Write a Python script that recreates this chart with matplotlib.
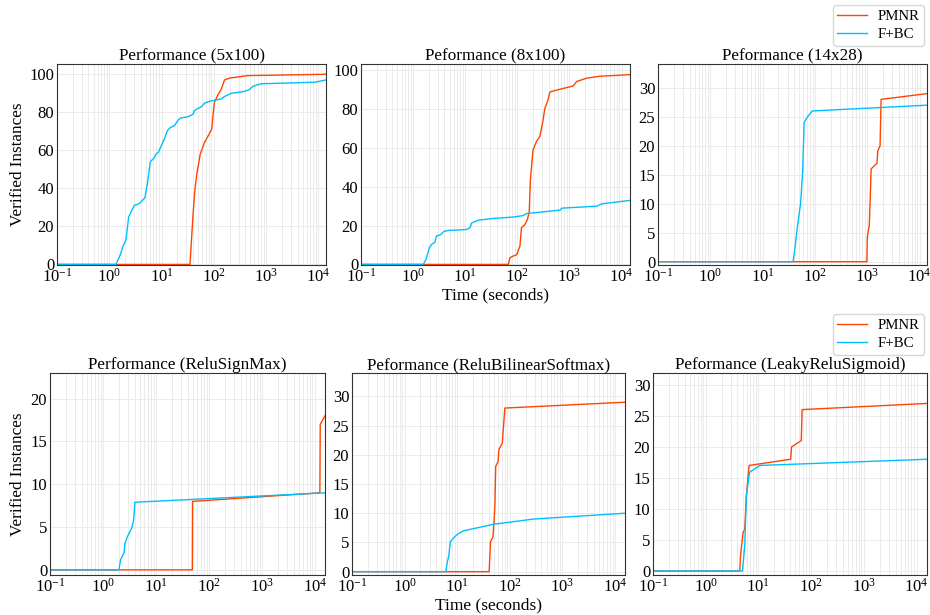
import matplotlib
matplotlib.use('Agg')
import matplotlib.pyplot as plt
from matplotlib.ticker import MultipleLocator

plt.rcParams['font.family'] = 'serif'
plt.rcParams['font.serif'] = ['Liberation Serif', 'DejaVu Serif']
plt.rcParams['mathtext.fontset'] = 'stix'

PMNR_COLOR = 'orangered'
FBC_COLOR = 'deepskyblue'

# ---- 5x100 ----
t_5x100_pmnr = [0.1, 35, 40, 43, 47, 55, 66, 83, 91, 102, 119, 138, 160, 200, 447, 14000]
v_5x100_pmnr = [0, 0, 26, 38, 47, 58, 64, 69, 71, 85, 89, 92, 97, 98, 99.3, 100]
t_5x100_fbc = [0.1, 1.34, 1.62, 1.8, 2.09, 2.35, 3.0, 3.76, 4.8, 5.4, 6.1, 7.2, 7.8, 8.7, 9.4,
               11.3, 13, 14.8, 17.6, 21, 23, 31.6, 40, 43, 58, 68, 89, 138, 165, 215, 390,
               480, 560, 800, 8500, 14000]
v_5x100_fbc = [0, 0, 5, 9, 13, 25, 31, 32, 35, 43, 54, 56, 58, 59, 61,
               66, 70.5, 72, 73, 76, 77, 77.6, 79, 81, 83, 85, 86, 87, 88.5, 90, 91,
               92, 93.7, 95, 95.8, 97]

# ---- 8x100 ----
t_8x100_pmnr = [0.1, 67, 72, 83, 97, 112, 120, 140, 155, 169, 178, 200, 234, 270, 305, 338,
                380, 420, 455, 1180, 1380, 2140, 3800, 14400]
v_8x100_pmnr = [0, 0, 3.4, 4.3, 5, 9.4, 19, 20.6, 23, 27, 43.7, 59, 63.5, 66, 73, 80.6,
                84, 88.7, 89.2, 92, 94.3, 96, 97, 97.8]
t_8x100_fbc = [0.1, 1.57, 1.77, 2.05, 2.26, 2.63, 2.8, 3.4, 3.9, 4.7, 10.6, 12.4, 13.3, 17.8,
               34.7, 83, 130, 150, 660, 710, 3300, 4150, 14400]
v_8x100_fbc = [0, 0, 2.6, 8.6, 10.3, 11.5, 14.6, 15.4, 17, 17.5, 18, 19, 21.4, 22.8,
               23.7, 24.4, 25.2, 26.2, 28, 29, 30, 31.2, 33]

# ---- 14x28 ----
t_14x28_pmnr = [0.1, 980, 1000, 1090, 1140, 1180, 1530, 1580, 1750, 1830, 14000]
v_14x28_pmnr = [0, 0, 4.3, 6.3, 11.4, 16, 17, 19.1, 20, 28, 29]
t_14x28_fbc = [0.1, 38, 41, 46, 53, 58, 62, 72, 89, 14000]
v_14x28_fbc = [0, 0, 2, 6, 10, 15.4, 24, 25, 26, 27]

# ---- ReluSignMax ----
t_rsm_pmnr = [0.1, 48.5, 49, 12400, 12600, 15500]
v_rsm_pmnr = [0, 0, 8, 9, 17, 18]
t_rsm_fbc = [0.1, 2.0, 2.15, 2.5, 2.6, 2.9, 3.5, 3.8, 4.0, 15500]
v_rsm_fbc = [0, 0, 1.2, 2, 3.1, 3.9, 4.9, 5.9, 7.9, 9]

# ---- ReluBilinearSoftmax ----
t_rbs_pmnr = [0.1, 40.5, 43, 48, 52, 54, 60, 62, 72, 80.5, 15500]
v_rbs_pmnr = [0, 0, 5.1, 6, 11, 18, 18.9, 20.9, 22, 28, 29]
t_rbs_fbc = [0.1, 6.07, 6.5, 6.9, 7.4, 9, 10.5, 13.3, 48, 280, 15500]
v_rbs_fbc = [0, 0, 1.7, 2.6, 5.1, 6, 6.5, 7, 8.1, 9, 10]

# ---- LeakyReluSigmoid ----
t_lrs_pmnr = [0.1, 4.43, 4.55, 5.1, 5.5, 5.9, 6.65, 41, 42.6, 65, 67.5, 15800]
v_lrs_pmnr = [0, 0, 2.2, 6.2, 6.7, 12.1, 17, 18, 20, 21, 26, 27]
t_lrs_fbc = [0.1, 4.97, 5.5, 5.9, 6.8, 10.6, 15800]
v_lrs_fbc = [0, 0, 4, 12.1, 15.9, 17, 18]

titles = ['Performance (5x100)', 'Peformance (8x100)', 'Peformance (14x28)',
          'Performance (ReluSignMax)', 'Peformance (ReluBilinearSoftmax)',
          'Peformance (LeakyReluSigmoid)']
pmnr_series = [(t_5x100_pmnr, v_5x100_pmnr), (t_8x100_pmnr, v_8x100_pmnr),
               (t_14x28_pmnr, v_14x28_pmnr), (t_rsm_pmnr, v_rsm_pmnr),
               (t_rbs_pmnr, v_rbs_pmnr), (t_lrs_pmnr, v_lrs_pmnr)]
fbc_series = [(t_5x100_fbc, v_5x100_fbc), (t_8x100_fbc, v_8x100_fbc),
              (t_14x28_fbc, v_14x28_fbc), (t_rsm_fbc, v_rsm_fbc),
              (t_rbs_fbc, v_rbs_fbc), (t_lrs_fbc, v_lrs_fbc)]
ylims = [(-0.3, 105.4), (-0.3, 103.3), (-0.57, 34.1),
         (-0.6, 23.0), (-0.57, 34.0), (-0.65, 31.9)]
ysteps = [20, 20, 5, 5, 5, 5]
xmax = [1.4e4, 1.45e4, 1.38e4, 1.55e4, 1.55e4, 1.58e4]

W, H = 930.0, 615.0
# left, top, width, height in pixels
boxes = [(57, 64, 269, 201), (361, 64, 269, 201), (658, 64, 269, 201),
         (50, 373, 275, 202), (352, 373, 273, 202), (653, 373, 274, 202)]

fig = plt.figure(figsize=(9.3, 6.15), dpi=100)
axes = []
for i in range(6):
    l, t, w, h = boxes[i]
    ax = fig.add_axes([l / W, 1 - (t + h) / H, w / W, h / H])
    axes.append(ax)
    ax.plot(pmnr_series[i][0], pmnr_series[i][1], color=PMNR_COLOR, lw=1.0, label='PMNR')
    ax.plot(fbc_series[i][0], fbc_series[i][1], color=FBC_COLOR, lw=1.0, label='F+BC')
    ax.set_xscale('log')
    ax.set_xlim(0.1, xmax[i])
    ax.set_ylim(*ylims[i])
    ax.yaxis.set_major_locator(MultipleLocator(ysteps[i]))
    ax.set_title(titles[i], fontsize=12.3, pad=2)
    ax.grid(which='both', color='#ebebeb', lw=0.7)
    ax.set_axisbelow(True)
    ax.tick_params(which='both', length=0, labelsize=12, pad=2)
    for s in ax.spines.values():
        s.set_color('#333333')

axes[0].set_ylabel('Verified Instances', fontsize=12.3)
axes[0].yaxis.set_label_coords(-0.115, 0.5)
axes[3].set_ylabel('Verified Instances', fontsize=12.3)
axes[3].yaxis.set_label_coords(-0.088, 0.5)
axes[1].set_xlabel('Time (seconds)', fontsize=12.5)
axes[1].xaxis.set_label_coords(0.5, -22 / 201)
axes[4].set_xlabel('Time (seconds)', fontsize=12.5)
axes[4].xaxis.set_label_coords(0.5, -22 / 202)

for ax, top in [(axes[2], 5), (axes[5], 314)]:
    h, lb = ax.get_legend_handles_labels()
    fig.legend(h, lb, loc='upper right', bbox_to_anchor=(924 / W, 1 - top / H),
               borderaxespad=0, fontsize=10.7, handlelength=2.0, borderpad=0.3,
               labelspacing=0.35, handletextpad=0.7)

fig.savefig('out.png', dpi=100)
